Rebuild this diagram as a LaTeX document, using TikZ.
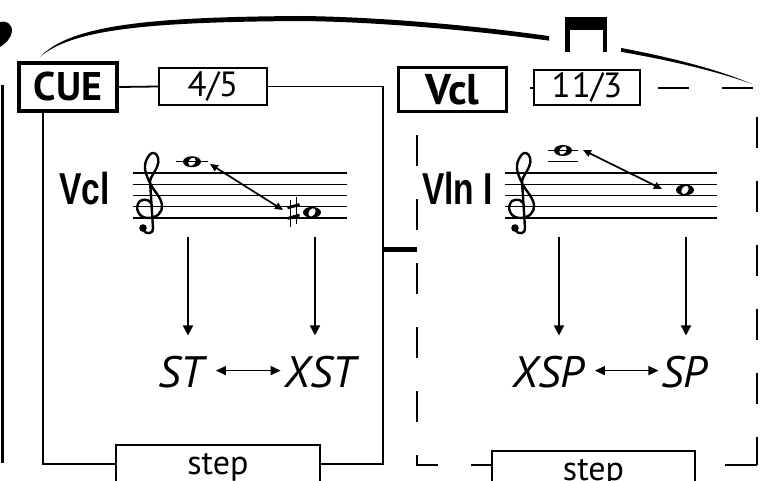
\documentclass[tikz,border=0pt]{standalone}
\usepackage{fontspec}
\setmainfont{PT Sans}
\newfontfamily\condfont{Liberation Sans}
\usepackage{graphicx}
\usetikzlibrary{arrows.meta}
\begin{document}
\begin{tikzpicture}[x=1pt,y=-1pt,
  boxline/.style={line width=1.8pt},
  box/.style={draw, line width=1.8pt, inner sep=0pt, font=\fontsize{35}{38}\selectfont},
  stepbox/.style={draw, line width=1.8pt, inner sep=0pt, minimum height=44pt, font=\fontsize{34}{36}\selectfont},
  ital/.style={inner sep=0pt, anchor=base, font=\fontsize{44}{48}\selectfont\itshape},
  cond/.style={inner sep=0pt, font=\condfont\bfseries\fontsize{44.7}{48}\selectfont},
  dashA/.style={line width=1.8pt, dash pattern=on 31pt off 33pt, dash phase=42pt},
  dashB/.style={line width=1.8pt, dash pattern=on 31pt off 33pt, dash phase=47pt},
  dashC/.style={line width=1.8pt, dash pattern=on 32pt off 33pt},
  staffline/.style={line width=1.2pt},
  varrow/.style={line width=1.5pt, -{Triangle[length=10pt,width=10pt]}},
  harrow/.style={line width=1.6pt, {Triangle[length=10pt,width=9pt]}-{Triangle[length=10pt,width=9pt]}},
  narrow/.style={line width=1.7pt, {Triangle[length=8pt,width=7pt]}-{Triangle[length=8pt,width=7pt]}},
  gclef/.pic={
    \draw[line width=2.4pt, line cap=round, line join=round]
      (-2,54) .. controls (-2,47) and (-9,45) .. (-14,48)
      .. controls (-20,54) and (-16,65) .. (-6,65)
      .. controls (3,65) and (9,59) .. (8,52)
      .. controls (7,44) and (0,38) .. (-3,32)
      .. controls (-7,24) and (-11,16) .. (-8,8)
      .. controls (-6,3) and (-3,-1) .. (0,0)
      .. controls (4,1) and (6,8) .. (3,14)
      .. controls (1,19) and (-3,23) .. (-4,28)
      -- (-1,75)
      .. controls (0,81) and (-8,82) .. (-11,77);
    \fill (-11,75) circle (3.8pt);
  },
  wnote/.pic={
    \fill[even odd rule] (0,0) circle [x radius=9pt, y radius=5.5pt]
      (0,0) circle [x radius=3.3pt, y radius=4.6pt, rotate=-35];
  }
]
\useasboundingbox (0,0) rectangle (764,481);

% breath mark and previous box edge
\fill (0,22) .. controls (6,20) and (12,24) .. (12,31) .. controls (11,39) and (5,44) .. (0,47) -- cycle;
\draw[line width=3pt] (2,85) -- (2,463);

% slur with down-bow sign
\begin{scope}
  \clip (0,0) rectangle (549,100) (621,0) rectangle (764,100);
  \fill (40,57) .. controls (70,25) and (150,17) .. (300,16)
        .. controls (420,17) and (650,40) .. (752,84)
        .. controls (645,45) and (420,22) .. (300,21)
        .. controls (150,22) and (72,29) .. (40,57) -- cycle;
\end{scope}
\fill (565,17) rectangle (607,30);
\fill (565,30) rectangle (569.5,52);
\fill (602.5,30) rectangle (607,52);

% ---------- left box ----------
\node[draw, line width=4.5pt, minimum width=98pt, minimum height=48pt, inner sep=0pt,
      font=\bfseries\fontsize{40}{44}\selectfont] (cue) at (68,87) {CUE};
\node[box, minimum width=108pt, minimum height=37pt] (q45) at (213,86.5) {4/5};
\node[stepbox, minimum width=204pt] (step1) at (218,467) {step};
\coordinate (br1) at (383,464);
\coordinate (bl1) at (43,464);
\draw[boxline] (cue.east) -- (q45.west);
\draw[boxline] (q45.east) -| (br1) -- (br1 -| step1.east);
\draw[boxline] (bl1 -| step1.west) -- (bl1) -- (bl1 |- cue.south);

% left staff
\foreach \i in {0,...,4} \draw[staffline] (133,173+11.25*\i) -- (347,173+11.25*\i);
\pic at (154,153) {gclef};
\draw[line width=1.5pt] (176,161.75) -- (208,161.75);
\coordinate (nA) at (192,161.75);
\coordinate (nB) at (312,212.4);
\pic at (nA) {wnote};
\pic at (nB) {wnote};
\draw[line width=1pt] (290.7,200) -- (290.7,227);
\draw[line width=1pt] (296.3,197) -- (296.3,224);
\draw[line width=2.8pt] (287.5,208) -- (299.5,204.5);
\draw[line width=2.8pt] (287.5,218.5) -- (299.5,215);
\coordinate (aL1) at (210,164);
\coordinate (aL2) at (283,210);
\draw[narrow] (aL1) -- (aL2);
\node[cond, anchor=base east] (vcllab) at (110,205) {\scalebox{0.75}[1]{Vcl}};

\node[ital] (st) at (181,388) {ST};
\node[ital] (xst) at (320.5,388) {XST};
\coordinate (v1) at (188,237);
\coordinate (v2) at (315,237);
\draw[varrow, shorten >=21pt] (v1) -- (v1 |- st.north);
\draw[varrow, shorten >=21pt] (v2) -- (v2 |- xst.north);
\draw[harrow, shorten <=12pt, shorten >=4pt] ([yshift=2pt]st.east) -- ([yshift=2pt]xst.west);

% connector between boxes
\coordinate (m1) at (383,250);
\coordinate (m2) at (417,250);
\draw[line width=5pt] (m1) -- (m2);

% ---------- right box ----------
\node[draw, line width=2.7pt, minimum width=108pt, minimum height=44pt, inner sep=0pt,
      font=\bfseries\fontsize{43}{46}\selectfont] (vclbox) at (452.5,89.5) {Vcl};
\node[box, line width=2pt, minimum width=106pt, minimum height=35pt] (q113) at (587,87.5) {1\kern1pt1/3};
\node[stepbox, minimum width=203pt] (step2) at (593.5,473) {step};
\coordinate (bl2) at (417,465);
\coordinate (br2) at (757,465);
\coordinate (tr2) at (757,88);
\draw[dashA] (bl2 |- vclbox.south) -- (bl2) -- (bl2 -| step2.west);
\draw[dashA] (vclbox.east |- tr2) -- (q113.west |- tr2);
\draw[dashB] (q113.east |- tr2) -- (tr2) -- (br2);
\draw[dashC] (br2) -- (br2 -| step2.east);

% right staff
\foreach \i in {0,...,4} \draw[staffline] (505,173+11.25*\i) -- (717,173+11.25*\i);
\pic at (526,153) {gclef};
\draw[line width=1.5pt] (548,150.5) -- (578,150.5);
\draw[line width=1.5pt] (548,161.75) -- (578,161.75);
\coordinate (nC) at (563,150.5);
\coordinate (nD) at (685,189.9);
\pic at (nC) {wnote};
\pic at (nD) {wnote};
\coordinate (aR1) at (583,150);
\coordinate (aR2) at (662,189);
\draw[narrow] (aR1) -- (aR2);
\node[cond, anchor=base west] (vlnlab) at (422,205) {\scalebox{0.75}[1]{Vln I}};

\node[ital] (xsp) at (548,388) {XSP};
\node[ital] (sp) at (684.5,388) {SP};
\coordinate (v3) at (559,237);
\coordinate (v4) at (686,237);
\draw[varrow, shorten >=21pt] (v3) -- (v3 |- xsp.north);
\draw[varrow, shorten >=21pt] (v4) -- (v4 |- sp.north);
\draw[harrow, shorten <=11pt, shorten >=3pt] ([yshift=2pt]xsp.east) -- ([yshift=2pt]sp.west);
\end{tikzpicture}
\end{document}
